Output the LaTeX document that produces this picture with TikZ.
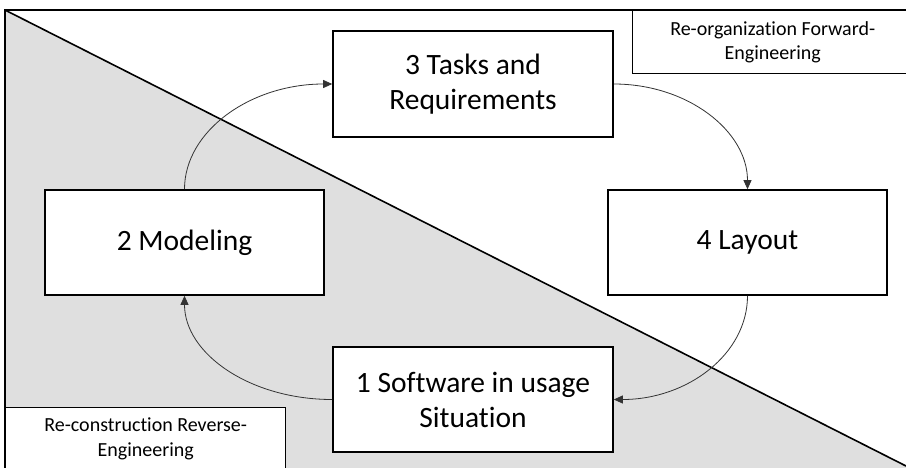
\documentclass[tikz,border=0pt]{standalone}
\usepackage{fontspec}
\setmainfont[Ligatures=NoCommon]{Carlito}
\usetikzlibrary{arrows.meta}
\begin{document}
\begin{tikzpicture}[x=1pt,y=-1pt,
  box/.style={draw=black,line width=1.6pt,fill=white,rectangle,inner sep=0pt,align=center,
    font=\fontsize{29.5}{35}\selectfont},
  lab/.style={draw=black,line width=1.4pt,fill=white,rectangle,inner sep=0pt,align=center,
    font=\fontsize{20}{24.5}\selectfont},
  conn/.style={draw=black!80,line width=0.8pt,-{Triangle[length=9pt,width=8pt]}}]
\useasboundingbox (0,0) rectangle (906,467);
\fill[white] (0,0) rectangle (906,467);
% gray triangle
\fill[gray!25] (5,10) -- (906,466) -- (906,470) -- (5,470) -- cycle;
\coordinate (tl) at (5,10);
\coordinate (tr) at (910,10);
\coordinate (bl) at (5,470);
\coordinate (br) at (906,466);
\draw[line width=1.6pt] (tr) -- (tl) -- (bl);
\draw[line width=1.6pt] (tl) -- (br);
% label boxes
\node[lab,minimum width=280pt,minimum height=63pt,anchor=north west] (fw) at (632,10)
  {Re-organization Forward-\\Engineering};
\node[lab,minimum width=280pt,minimum height=62pt,anchor=north west] (rv) at (5,407)
  {Re-construction Reverse-\\Engineering};
% main boxes
\node[box,minimum width=280pt,minimum height=106pt] (t) at (473,84) {3 Tasks and\\Requirements};
\node[box,minimum width=279pt,minimum height=105pt] (l) at (747.5,242.5) {4 Layout};
\node[box,minimum width=279pt,minimum height=105pt] (m) at (184.5,242.5) {2 Modeling};
\node[box,minimum width=280pt,minimum height=105pt] (s) at (473,399.5) {1 Software in usage\\Situation};
% connectors
\draw[conn] (m.north) .. controls +(0,-58) and +(-82,0) .. (t.west);
\draw[conn] (t.east) .. controls +(74,0) and +(0,-58) .. (l.north);
\draw[conn] (l.south) .. controls +(0,58) and +(74,0) .. (s.east);
\draw[conn] (s.west) .. controls +(-82,0) and +(0,58) .. (m.south);
\end{tikzpicture}
\end{document}
